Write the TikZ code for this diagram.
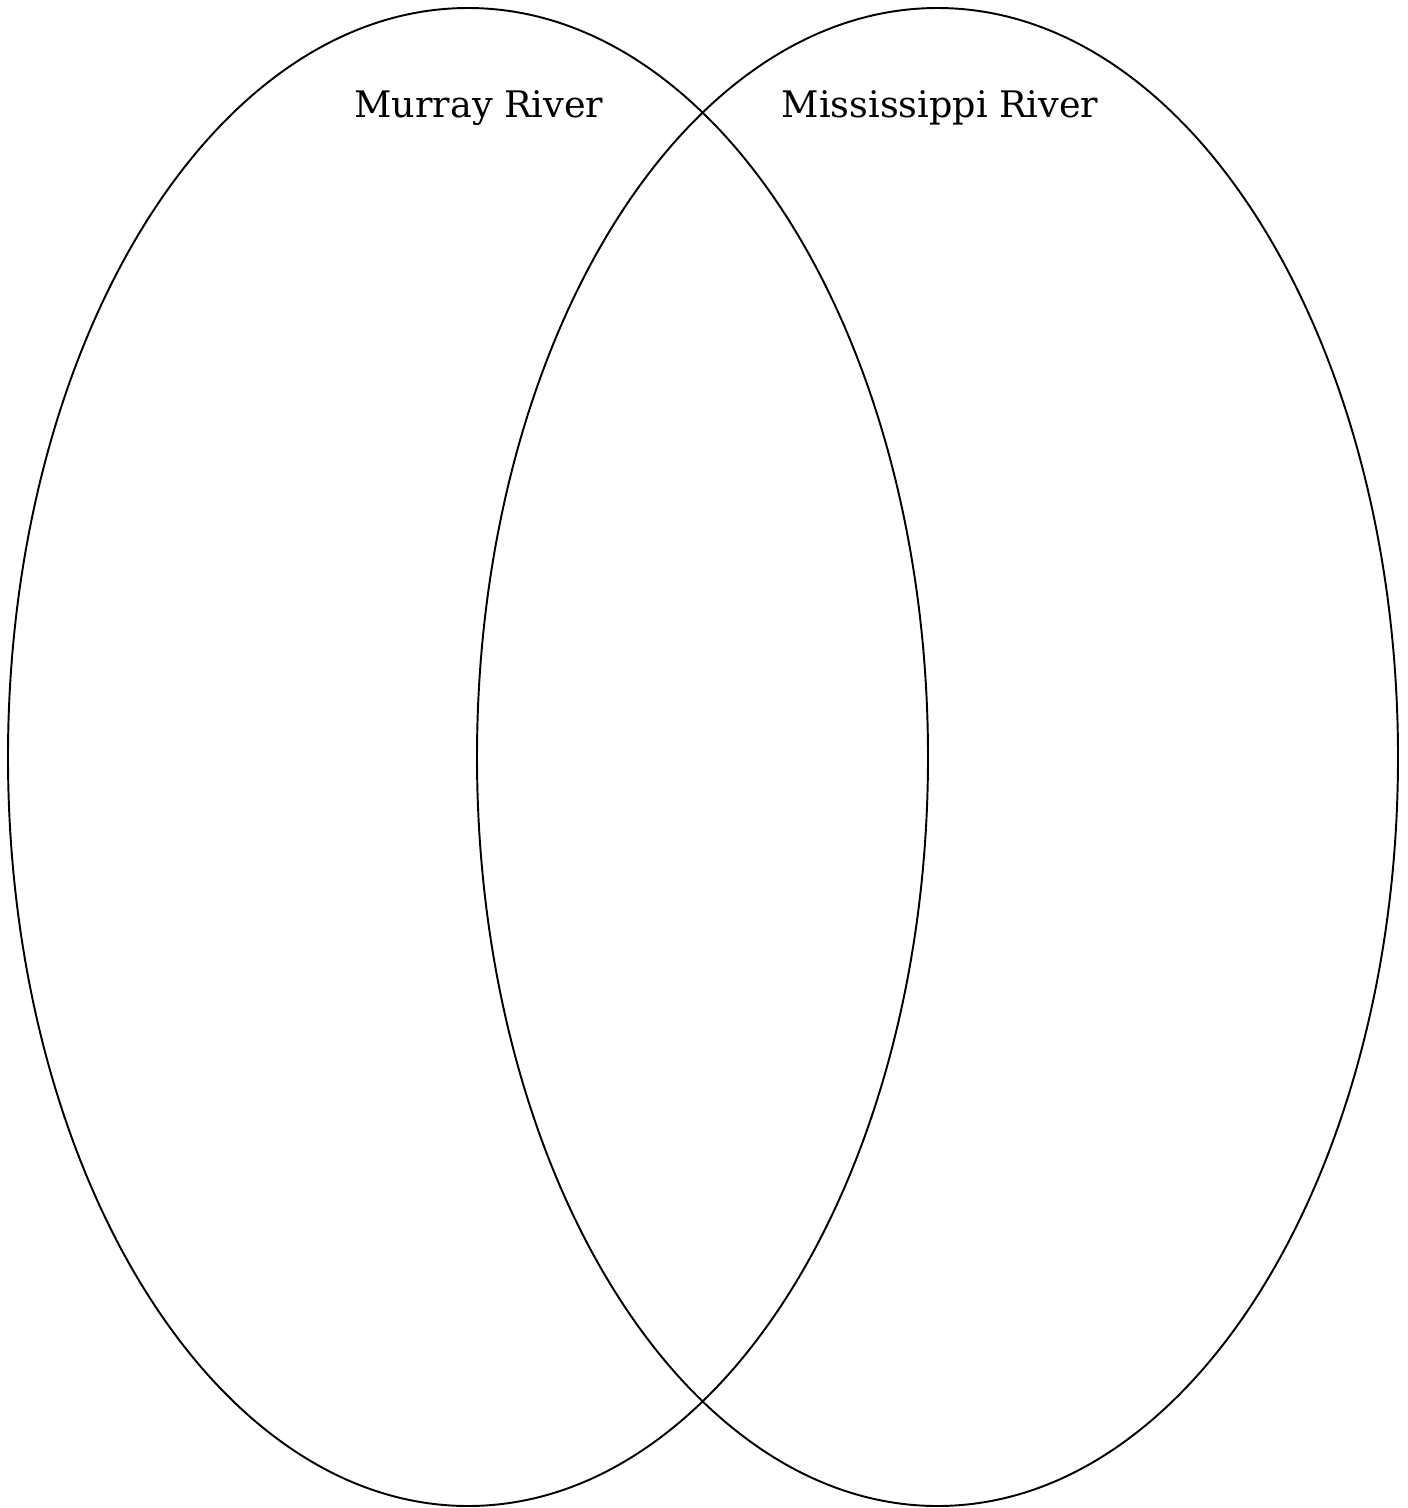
\documentclass[tikz,border=0pt]{standalone}
\usepackage{fontspec}
\setmainfont{DejaVu Serif}
\usetikzlibrary{positioning}

\begin{document}
\begin{tikzpicture}[x=0.02cm, y=-0.02cm,
    venn/.style={line width=1.1pt},
    title/.style={anchor=base, font=\fontsize{20.8}{25}\selectfont}]
  \useasboundingbox (0,0) rectangle (1407,1508);

  % Murray circle
  \coordinate (murray) at (468,757);
  \draw[venn] (murray) ellipse (460 and 749);
  \node[title] (murraylabel) at (479,117) {Murray River};

  % Mississippi circle
  \coordinate (miss) at (937.5,757);
  \draw[venn] (miss) ellipse (460.5 and 749);
  \node[title] (misslabel) at (940,117) {Mississippi River};
\end{tikzpicture}
\end{document}
